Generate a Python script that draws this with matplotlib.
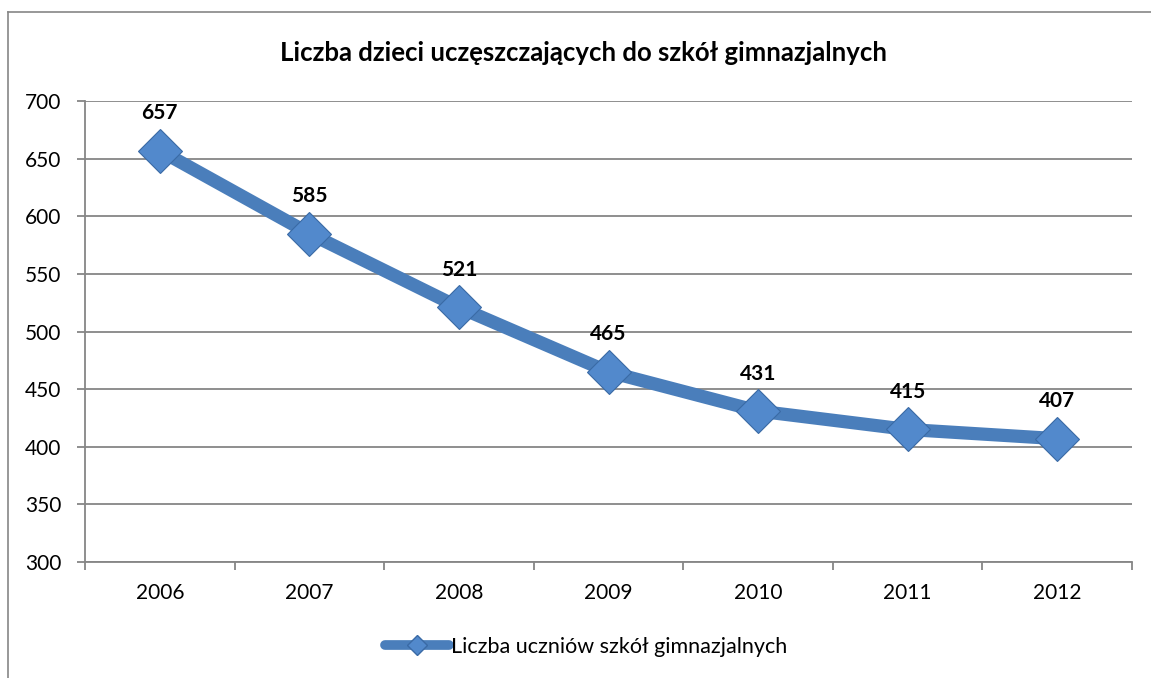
import matplotlib
matplotlib.use("Agg")
import matplotlib.pyplot as plt
from matplotlib.lines import Line2D

plt.rcParams['font.family'] = ['Lato', 'DejaVu Sans']

years = ['2006', '2007', '2008', '2009', '2010', '2011', '2012']
values = [657, 585, 521, 465, 431, 415, 407]
title = 'Liczba dzieci uczęszczających do szkół gimnazjalnych'
series_name = 'Liczba uczniów szkół gimnazjalnych'
yticks = [300, 350, 400, 450, 500, 550, 600, 650, 700]

W, H = 1151, 678
fig = plt.figure(figsize=(W / 100, H / 100), dpi=100)

# outer chart border (top and left visible)
fig.add_artist(Line2D([8 / W, 8 / W], [0, 1 - 12 / H], transform=fig.transFigure, color='#868686', lw=1.2))
fig.add_artist(Line2D([8 / W, 1], [1 - 12 / H, 1 - 12 / H], transform=fig.transFigure, color='#868686', lw=1.2))

left, right, top, bottom = 85, 1132, 101, 562
ax = fig.add_axes([left / W, 1 - bottom / H, (right - left) / W, (bottom - top) / H])

x = list(range(len(years)))
line_color = '#4A7EBB'
ax.plot(x, values, color=line_color, lw=9.5, solid_capstyle='round', zorder=3)
ax.plot(x, values, linestyle='none', marker='D', markersize=22, markerfacecolor='#5289CC',
        markeredgecolor='#3A6AA5', markeredgewidth=0.8, zorder=4)

for xi, v in zip(x, values):
    ax.annotate(str(v), (xi, v), xytext=(0, 27), textcoords='offset points', ha='center', va='center',
                fontsize=15, fontweight='bold', color='black')

ax.set_xlim(-0.5, len(years) - 0.5)
ax.set_ylim(300, 700)
ax.set_yticks(yticks)
ax.set_yticklabels([str(t) for t in yticks], fontsize=15)
ax.set_xticks(x)
ax.set_xticklabels(years, fontsize=15)
ax.set_xticks([i - 0.5 for i in range(len(years) + 1)], minor=True)
ax.tick_params(axis='x', which='major', length=0, pad=15)
ax.tick_params(axis='x', which='minor', length=6, color='#868686', width=1.3)
ax.tick_params(axis='y', length=6, color='#868686', width=1.3, pad=11)
ax.grid(axis='y', color='#868686', lw=1.3)
ax.set_axisbelow(True)
for s in ['top', 'right']:
    ax.spines[s].set_visible(False)
for s in ['left', 'bottom']:
    ax.spines[s].set_color('#868686')
    ax.spines[s].set_linewidth(1.3)

fig.text(584 / W, 1 - 53 / H, title, ha='center', va='center', fontsize=18.5, fontweight='bold')

handle = Line2D([], [], color=line_color, lw=7, marker='D', markersize=10,
                markerfacecolor='#5289CC', markeredgecolor='#3A6AA5', solid_capstyle='round')
fig.legend([handle], [series_name], loc='center', bbox_to_anchor=(586 / W, 1 - 647 / H),
           frameon=False, fontsize=15.5, handlelength=3.0, handletextpad=0.1)

fig.savefig('out.png', dpi=100)
